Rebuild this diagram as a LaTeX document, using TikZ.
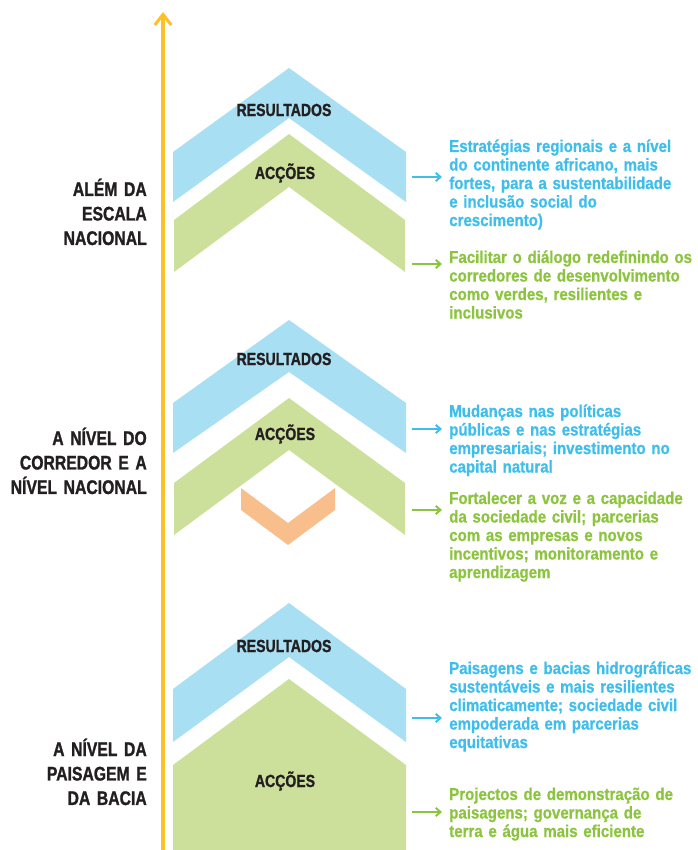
\documentclass[tikz,border=0pt]{standalone}
\usepackage{fontspec}
\setmainfont{Liberation Sans}
\newfontfamily\chevfont{Liberation Sans Bold}[FakeStretch=0.8, FakeBold=1.2]
\newfontfamily\notefont{Liberation Sans Bold}[FakeStretch=0.88, FakeBold=0.8]
\usetikzlibrary{arrows.meta}
\definecolor{resblue}{RGB}{168,223,243}
\definecolor{accgreen}{RGB}{205,224,155}
\definecolor{midorange}{RGB}{248,190,140}
\definecolor{axisyellow}{RGB}{253,193,39}
\definecolor{noteblue}{RGB}{64,190,235}
\definecolor{notegreen}{RGB}{141,196,63}
\definecolor{labeldark}{RGB}{35,31,32}
\tikzset{
  chevlabel/.style={font=\chevfont\fontsize{15}{17}\selectfont, text=labeldark, inner sep=0pt},
  levellabel/.style={font=\chevfont\fontsize{16.8}{20.9}\selectfont, text=labeldark, inner sep=0pt,
    text width=5cm, align=right, anchor=base east},
  note/.style={font=\notefont\fontsize{14.6}{15.8}\selectfont, inner sep=0pt,
    text width=8cm, align=left, anchor=base west}
}
\tikzset{outarrow/.style={line width=1.7pt, -{Straight Barb[length=4pt,width=7pt]}, shorten >=6pt}}

\begin{document}
\begin{tikzpicture}[x=0.03cm, y=-0.03cm]
		%%%%% START %%%%%
		\useasboundingbox (0,0) rectangle (697,850);
		
		% levels axis
		\draw[line width=2.6pt, color=axisyellow, -{Straight Barb[length=9pt,width=14pt]}] (163,850) -- (163,12);
		
		% beyond the national scale
		\fill[resblue] (173,152) -- (289,68) -- (406,152) -- (406,202) -- (289,118) -- (173,202) -- cycle;
		\fill[accgreen] (174,220) -- (289,134) -- (405,220) -- (405,272) -- (289,187) -- (174,272) -- cycle;
		\node[chevlabel] (res1) at (284,110) {RESULTADOS};
		\node[chevlabel] (acc1) at (285,173) {ACÇÕES};
		\node[levellabel] (lvl1) at (147,196) {\hyphenpenalty=10000 ALÉM DA\\ESCALA\\NACIONAL};
		
		% corridor and national level
		\fill[resblue] (173,403) -- (289,320) -- (406,403) -- (406,453) -- (289,372) -- (173,453) -- cycle;
		\fill[accgreen] (174,483) -- (289,398) -- (405,483) -- (405,535) -- (289,450) -- (174,535) -- cycle;
		\fill[midorange] (241,488) -- (288,523) -- (335,488) -- (335,510) -- (288,545) -- (241,510) -- cycle;
		\node[chevlabel] (res2) at (284,359) {RESULTADOS};
		\node[chevlabel] (acc2) at (285,434) {ACÇÕES};
		\node[levellabel] (lvl2) at (147,445) {\hyphenpenalty=10000 A NÍVEL DO\\CORREDOR E A\\NÍVEL NACIONAL};
		
		% landscape and basin level
		\fill[resblue] (173,689) -- (289,603) -- (406,689) -- (406,742) -- (289,657) -- (173,742) -- cycle;
		\fill[accgreen] (173,765) -- (289,679) -- (406,765) -- (406,850) -- (173,850) -- cycle;
		\node[chevlabel] (res3) at (284,646) {RESULTADOS};
		\node[chevlabel] (acc3) at (285,781) {ACÇÕES};
		\node[levellabel] (lvl3) at (147,756) {\hyphenpenalty=10000 A NÍVEL DA\\PAISAGEM E\\DA BACIA};
		
		% notes on the right
		\node[note, text=noteblue] (resout1) at (449,152) {Estratégias regionais e a nível\\do continente africano, mais\\fortes, para a sustentabilidade\\e inclusão social do\\crescimento)};
		\node[note, text=notegreen] (accout1) at (449,263) {Facilitar o diálogo redefinindo os\\corredores de desenvolvimento\\como verdes, resilientes e\\inclusivos};
		\node[note, text=noteblue] (resout2) at (449,417) {Mudanças nas políticas\\públicas e nas estratégias\\empresariais; investimento no\\capital natural};
		\node[note, text=notegreen] (accout2) at (449,504) {Fortalecer a voz e a capacidade\\da sociedade civil; parcerias\\com as empresas e novos\\incentivos; monitoramento e\\aprendizagem};
		\node[note, text=noteblue] (resout3) at (449,674) {Paisagens e bacias hidrográficas\\sustentáveis e mais resilientes\\climaticamente; sociedade civil\\empoderada em parcerias\\equitativas};
		\node[note, text=notegreen] (accout3) at (449,800) {Projectos de demonstração de\\paisagens; governança de\\terra e água mais eficiente};
		
		\coordinate (ra1) at (412,177);
		\coordinate (aa1) at (412,264);
		\coordinate (ra2) at (412,429);
		\coordinate (aa2) at (412,510);
		\coordinate (ra3) at (412,718);
		\coordinate (aa3) at (412,812);
		\draw[outarrow, color=noteblue] (ra1) -- (ra1 -| resout1.west);
		\draw[outarrow, color=notegreen] (aa1) -- (aa1 -| accout1.west);
		\draw[outarrow, color=noteblue] (ra2) -- (ra2 -| resout2.west);
		\draw[outarrow, color=notegreen] (aa2) -- (aa2 -| accout2.west);
		\draw[outarrow, color=noteblue] (ra3) -- (ra3 -| resout3.west);
		\draw[outarrow, color=notegreen] (aa3) -- (aa3 -| accout3.west);
		
		%%%%% END %%%%%
	\end{tikzpicture}
\end{document}
